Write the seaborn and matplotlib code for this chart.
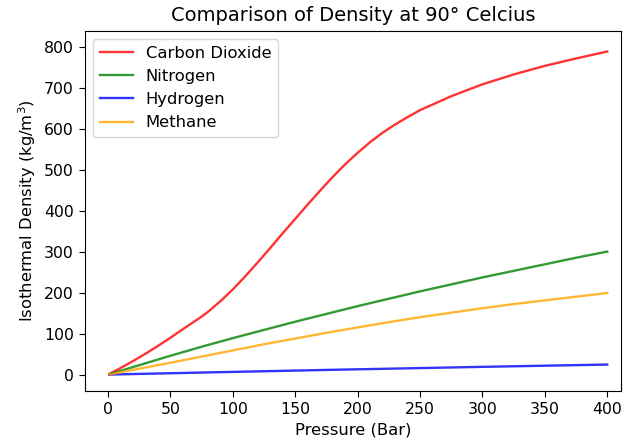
import matplotlib
matplotlib.use("Agg")
import matplotlib.pyplot as plt
import seaborn as sns
import pandas as pd

# Pressure grid (bar) for CO2 (finer, with the kink near the critical pressure)
pressure_co2 = [1, 10, 20, 30, 40, 50, 60, 73.8, 80, 90, 100, 110, 120, 130, 140,
                150, 160, 170, 180, 190, 200, 210, 220, 230, 240, 250, 275, 300,
                325, 350, 375, 400]
density_co2 = [1.5, 16, 33, 51, 70, 90, 111, 139, 153, 179, 208, 240, 274, 309, 345,
               380, 415, 449, 482, 513, 541, 567, 590, 610, 628, 645, 679, 708,
               732, 753, 771, 788]

# Pressure grid (bar) for the other gases
pressure = [1, 25, 50, 75, 100, 125, 150, 175, 200, 225, 250, 275, 300, 325, 350, 375, 400]
density_n2 = [0.9, 23, 46, 68, 89, 109, 129, 148, 167, 185, 203, 220, 237, 253, 269, 285, 300]
density_h2 = [0.07, 1.7, 3.3, 5.0, 6.6, 8.2, 9.8, 11.4, 12.9, 14.4, 15.9, 17.4, 18.9, 20.3, 21.7, 23.1, 24.5]
density_ch4 = [0.5, 14.5, 29, 44, 59, 74, 88, 102, 115, 128, 140, 151, 162, 172, 181, 190, 199]

labels = ["Carbon Dioxide", "Nitrogen", "Hydrogen", "Methane"]
colors = ["red", "green", "blue", "orange"]

fig = plt.figure(figsize=(6.23, 4.44), dpi=100)
ax = fig.add_axes([85 / 623, 1 - 391 / 444, (621 - 85) / 623, (391 - 31) / 444])

series = [
    (pressure_co2, density_co2),
    (pressure, density_n2),
    (pressure, density_h2),
    (pressure, density_ch4),
]
for (xs, ys), lab, col in zip(series, labels, colors):
    df = pd.DataFrame({"Pressure": xs, "Density": ys})
    sns.lineplot(data=df, x="Pressure", y="Density", ax=ax, color=col, alpha=0.8,
                 label=lab, linewidth=1.7)

ax.set_xlim(-18.5, 411)
ax.set_ylim(-40, 838)
ax.set_xticks([0, 50, 100, 150, 200, 250, 300, 350, 400])
ax.set_yticks([0, 100, 200, 300, 400, 500, 600, 700, 800])
ax.tick_params(labelsize=11.3, length=4.5)
ax.set_xlabel("Pressure (Bar)", fontsize=11.8)
ax.set_ylabel("Isothermal Density (kg/m$^3$)", fontsize=11.8)
ax.set_title("Comparison of Density at 90° Celcius", fontsize=14, pad=7)
ax.legend(loc="upper left", fontsize=11.8)

fig.savefig("out.png", dpi=100)
